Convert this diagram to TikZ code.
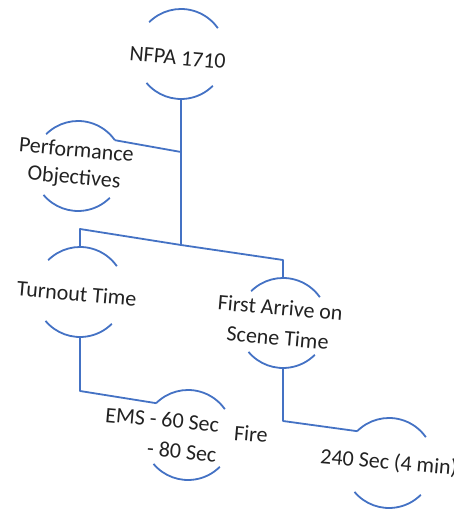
\documentclass[tikz,border=0pt]{standalone}
\usepackage{fontspec}
\setmainfont{Carlito}

\definecolor{smartblue}{HTML}{4472C4}
\definecolor{txtgray}{HTML}{222222}

\tikzset{
  bubble/.style={circle, minimum size=90pt, inner sep=0pt, outer sep=0pt},
  txt/.style={font=\fontsize{22}{30}\selectfont, text=txtgray, rotate=-5, align=center, inner sep=0pt},
  link/.style={draw=smartblue, line width=1.8pt, line join=round},
}

\begin{document}
\begin{tikzpicture}[x=1pt, y=1pt]
\useasboundingbox (0,0) rectangle (454,512);

% bubbles
\node[bubble, label={[txt, xshift=-3pt, yshift=-4pt]center:NFPA 1710}] (nfpa) at (181,458) {};
\node[bubble, label={[txt, font=\fontsize{22}{27}\selectfont, xshift=-3pt, yshift=1pt]center:{Performance\\Objectives}}] (perf) at (78,346) {};
\node[bubble, label={[txt, xshift=-3pt, yshift=-2pt]center:Turnout Time}] (turn) at (80,220) {};
\node[bubble, label={[txt, xshift=-4pt]center:{First Arrive on\\Scene Time}}] (arrive) at (283,189) {};
\node[bubble, label={[txt, align=right, xshift=-27pt, yshift=-2pt]center:{EMS - 60 Sec\\- 80 Sec}}] (ems) at (188,77) {};
\node[bubble, label={[txt, xshift=0pt]center:{240 Sec (4 min)}}] (sec) at (389,49) {};
\node[txt] (fire) at (251,78) {Fire};

\foreach \b in {nfpa,perf,turn,arrive,ems,sec}
  \draw[link] (\b.135) arc[start angle=135, end angle=35, radius=45pt]
              (\b.220) arc[start angle=220, end angle=315, radius=45pt];

% connectors
\coordinate (hub) at (181,267);
\coordinate (pj) at (181,360);
\draw[link] (nfpa.south) -- (hub);
\draw[link] (perf.35) -- (pj);
\draw[link] (turn.north) -- ++(0,18) -- (hub) -- ([yshift=18pt]arrive.north) -- (arrive.north);
\draw[link] (turn.south) -- ++(0,-54) -- (ems.135);
\draw[link] (arrive.south) -- ++(0,-53) -- (sec.135);
\end{tikzpicture}
\end{document}
